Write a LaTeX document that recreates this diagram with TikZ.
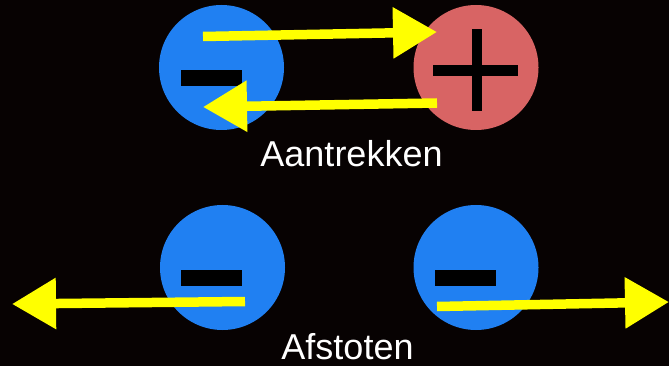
\documentclass[tikz,border=0pt]{standalone}
\usepackage{fontspec}
\setmainfont{Liberation Sans}
\usetikzlibrary{arrows.meta}
\definecolor{bgc}{HTML}{070202}
\definecolor{chargeblue}{HTML}{2080F2}
\definecolor{chargered}{HTML}{D86464}
\definecolor{arrowyellow}{HTML}{FFFF00}
\tikzset{
  charge/.style={circle, inner sep=0pt, minimum size=125pt, draw=none},
  negative/.style={charge, fill=chargeblue},
  positive/.style={charge, fill=chargered},
  bar/.style={rectangle, inner sep=0pt, fill=black, draw=none},
  force/.style={draw=arrowyellow, line width=9.5pt, -{Triangle[length=44pt,width=49pt]}, arrowyellow},
  caption/.style={text=white, font=\fontsize{36}{40}\selectfont, inner sep=0pt, anchor=base}
}
\begin{document}
\begin{tikzpicture}[x=1pt,y=-1pt]
\useasboundingbox (0,0) rectangle (669,366);
\fill[bgc] (0,0) rectangle (669,366);
% attraction
\node[negative] (n1) at (221.5,67.5) {};
\node[positive] (p1) at (476,67.5) {};
\node[bar, minimum width=61pt, minimum height=16pt] (m1) at (211.5,78) {};
\node[bar, minimum width=85pt, minimum height=11pt] (ph) at (475.5,70.5) {};
\node[bar, minimum width=10pt, minimum height=82pt] (pv) at (477,70) {};
\coordinate (a1s) at (203,36.5);
\coordinate (a1e) at (437,32);
\coordinate (a2s) at (437,103);
\coordinate (a2e) at (203,107);
\draw[force] (a1s) -- (a1e);
\draw[force] (a2s) -- (a2e);
\node[caption] (t1) at (351.5,167) {Aantrekken};
% repulsion
\node[negative] (n2) at (222.5,267.5) {};
\node[negative] (n3) at (476,267.5) {};
\node[bar, minimum width=61pt, minimum height=16pt] (m2) at (211.5,278) {};
\node[bar, minimum width=61pt, minimum height=16pt] (m3) at (465.5,278) {};
\coordinate (a3s) at (245,301.5);
\coordinate (a3e) at (12,304);
\coordinate (a4s) at (437,306.5);
\coordinate (a4e) at (669,302);
\draw[force] (a3s) -- (a3e);
\draw[force] (a4s) -- (a4e);
\node[caption] (t2) at (347.5,359.5) {Afstoten};
\end{tikzpicture}
\end{document}
